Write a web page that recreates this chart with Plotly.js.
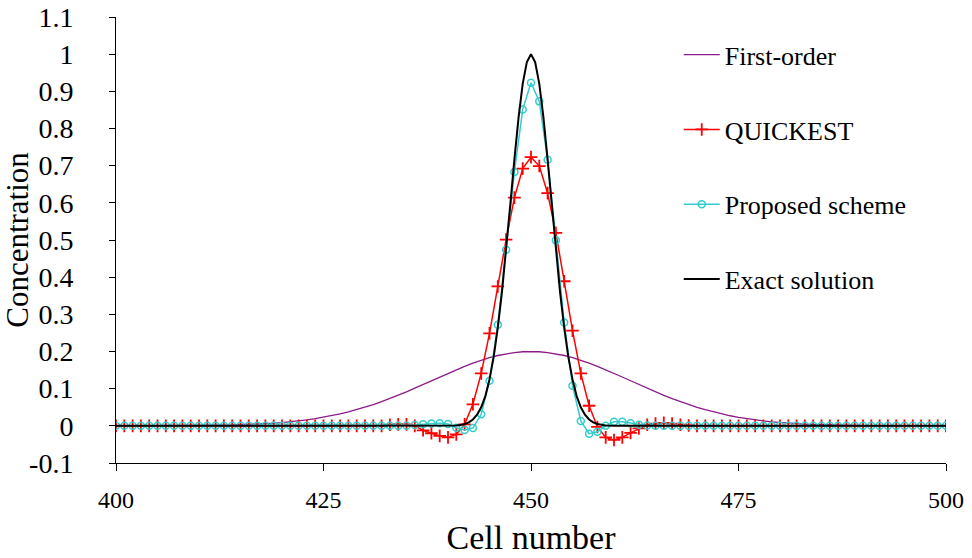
<!DOCTYPE html>
<html>
<head>
<meta charset="utf-8">
<script src="https://cdn.plot.ly/plotly-3.0.1.min.js"></script>
<style>html,body{margin:0;padding:0;background:#fff;}#chart{width:972px;height:558px;}</style>
</head>
<body>
<div id="chart"></div>
<script>
// Cell numbers (x categories)
var cells = [400,401,402,403,404,405,406,407,408,409,410,411,412,413,414,415,416,417,418,419,
  420,421,422,423,424,425,426,427,428,429,430,431,432,433,434,435,436,437,438,439,
  440,441,442,443,444,445,446,447,448,449,450,451,452,453,454,455,456,457,458,459,
  460,461,462,463,464,465,466,467,468,469,470,471,472,473,474,475,476,477,478,479,
  480,481,482,483,484,485,486,487,488,489,490,491,492,493,494,495,496,497,498,499,500];

// First-order scheme
var firstOrder = [0.0000,0.0000,0.0001,0.0001,0.0001,0.0002,0.0002,0.0003,0.0004,0.0006,
  0.0008,0.0010,0.0013,0.0017,0.0022,0.0028,0.0036,0.0046,0.0057,0.0071,
  0.0088,0.0108,0.0131,0.0159,0.0191,0.0228,0.0271,0.0319,0.0373,0.0433,
  0.0499,0.0571,0.0649,0.0733,0.0822,0.0916,0.1013,0.1112,0.1213,0.1314,
  0.1413,0.1510,0.1601,0.1687,0.1765,0.1834,0.1892,0.1938,0.1972,0.1993,
  0.2000,
  0.1993,0.1972,0.1938,0.1892,0.1834,0.1765,0.1687,0.1601,0.1510,0.1413,
  0.1314,0.1213,0.1112,0.1013,0.0916,0.0822,0.0733,0.0649,0.0571,0.0499,
  0.0433,0.0373,0.0319,0.0271,0.0228,0.0191,0.0159,0.0131,0.0108,0.0088,
  0.0071,0.0057,0.0046,0.0036,0.0028,0.0022,0.0017,0.0013,0.0010,0.0008,
  0.0006,0.0004,0.0003,0.0002,0.0002,0.0001,0.0001,0.0001,0.0000,0.0000];

// QUICKEST scheme
var quickest = [0,0,0,0,0,0,0,0,0,0, 0,0,0,0,0,0,0,0,0,0,
  0,0,0,0,0,0,0,0,0,0, 0,0,0,0.003,0.004,0.004,0.000,-0.012,-0.020,-0.027,
  -0.031,-0.023,0.004,0.058,0.141,0.249,0.375,0.501,0.614,0.692,
  0.723,0.699,0.626,0.519,0.389,0.256,0.141,0.054,-0.003,-0.031,
  -0.038,-0.031,-0.019,-0.007,0.003,0.006,0.008,0.006,0.003,0.001,
  0,0,0,0,0,0,0,0,0,0, 0,0,0,0,0,0,0,0,0,0, 0,0,0,0,0,0,0,0,0,0, 0];

// Proposed scheme
var proposed = [0,0,0,0,0,0,0,0,0,0, 0,0,0,0,0,0,0,0,0,0,
  0,0,0,0,0,0,0,0,0,0, 0,0,0,0,0,0,0.002,0.004,0.006,0.007,
  0.005,-0.005,-0.011,-0.006,0.031,0.121,0.272,0.474,0.683,0.851,
  0.923,0.873,0.716,0.499,0.278,0.108,0.013,-0.021,-0.016,0.000,
  0.011,0.011,0.007,0.003,0.001,0,0,0,0,0,
  0,0,0,0,0,0,0,0,0,0, 0,0,0,0,0,0,0,0,0,0, 0,0,0,0,0,0,0,0,0,0, 0];

// Exact solution
var exactX = [400,410,420,430,435,438,439,440,441,441.5,442,442.5,443,443.5,444,444.5,445,445.5,
  446,446.5,447,447.5,448,448.5,449,449.5,450,450.5,451,451.5,452,452.5,453,453.5,454,454.5,
  455,455.5,456,456.5,457,457.5,458,458.5,459,460,461,462,465,470,480,490,500];
var exactY = [0,0,0,0,0,0.0001,0.0001,0.0002,0.0012,0.0024,0.0048,0.0093,0.017,0.030,0.050,0.080,0.125,0.185,
  0.264,0.360,0.472,0.594,0.717,0.829,0.920,0.979,1.000,0.979,0.920,0.829,0.717,0.594,0.472,0.360,0.264,0.185,
  0.125,0.080,0.050,0.030,0.017,0.0093,0.0048,0.0024,0.0012,0.0002,0.0001,0.0001,0,0,0,0,0];

var xTicks = [400,425,450,475,500];
var yTickVals = [-0.1,0,0.1,0.2,0.3,0.4,0.5,0.6,0.7,0.8,0.9,1,1.1];
var yTickText = ["-0.1","0","0.1","0.2","0.3","0.4","0.5","0.6","0.7","0.8","0.9","1","1.1"];

var FONT = "Liberation Serif";

var traces = [
  {x: cells, y: firstOrder, name: "First-order", mode: "lines", legendgroup: "a",
   line: {color: "#8b1a8b", width: 1.3}},
  {x: cells, y: quickest, name: "QUICKEST", mode: "lines+markers", legendgroup: "b",
   line: {color: "#ff0000", width: 1.5},
   marker: {symbol: "cross-thin-open", size: 9, color: "#ff0000", line: {color: "#ff0000", width: 1.8}}},
  {x: cells, y: proposed, name: "Proposed scheme", mode: "lines+markers", legendgroup: "c",
   line: {color: "#33cccc", width: 1.5},
   marker: {symbol: "circle-open", size: 7, color: "#33cccc", line: {color: "#33cccc", width: 1.5}}},
  {x: exactX, y: exactY, name: "Exact solution", mode: "lines", legendgroup: "d",
   line: {color: "#000000", width: 2}}
];

var layout = {
  width: 972, height: 558,
  margin: {l: 116, r: 26, t: 17, b: 95},
  paper_bgcolor: "#ffffff", plot_bgcolor: "#ffffff",
  font: {family: FONT, color: "#000000"},
  showlegend: true,
  legend: {x: 0.678, y: 0.968, xanchor: "left", yanchor: "top",
    font: {family: FONT, size: 26, color: "#000"}, itemwidth: 36,
    traceorder: "grouped", tracegroupgap: 38, bgcolor: "rgba(0,0,0,0)", borderwidth: 0},
  xaxis: {range: [400, 500], tickvals: xTicks, ticks: "outside", ticklen: 7, tickwidth: 1, tickcolor: "#000",
    showline: true, linecolor: "#000", linewidth: 1, showgrid: false, zeroline: false,
    tickfont: {family: FONT, size: 24, color: "#000"}, ticklabelstandoff: 8,
    title: {text: "Cell number", font: {family: FONT, size: 34, color: "#000"}, standoff: 13}},
  yaxis: {range: [-0.1, 1.1], tickvals: yTickVals, ticktext: yTickText, ticks: "outside", ticklen: 6, tickwidth: 1, tickcolor: "#000",
    showline: true, linecolor: "#000", linewidth: 1, showgrid: false, zeroline: false,
    tickfont: {family: FONT, size: 28, color: "#000"}, ticklabelposition: "outside", ticklabelstandoff: 30,
    title: {text: "Concentration", font: {family: FONT, size: 31, color: "#000"}, standoff: 0}}
};

Plotly.newPlot("chart", traces, layout, {staticPlot: true, displayModeBar: false});
</script>
</body>
</html>
